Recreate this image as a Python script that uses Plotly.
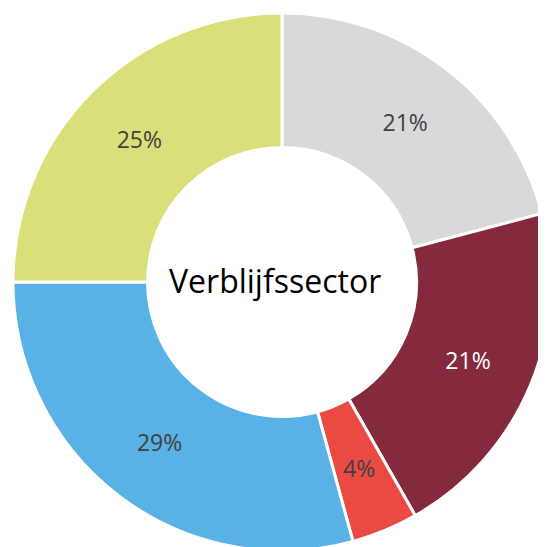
import math
import plotly.graph_objects as go

categories = ["Categorie 1", "Categorie 2", "Categorie 3", "Categorie 4", "Categorie 5"]
values = [20.9, 20.85, 4.0, 29.25, 25.0]
colors = ["#d9d9d9", "#85293c", "#eb4a42", "#58b2e6", "#d9e07a"]
text_colors = ["#404040", "#ffffff", "#404040", "#404040", "#404040"]
center_label = "Verblijfssector"

W, H = 546, 547
# pie domain in figure pixels
X0, X1, Y0, Y1 = 5, 543, 5, 543
HOLE = 0.5
SMALL = 2  # index of the thin slice whose label is placed at mid-ring

total = sum(values)
texttemplates = ["" if i == SMALL else "%{percent:.0%}" for i in range(len(values))]

fig = go.Figure(go.Pie(
    labels=categories,
    values=values,
    hole=HOLE,
    sort=False,
    direction="clockwise",
    rotation=0,
    marker=dict(colors=colors, line=dict(color="#ffffff", width=3)),
    texttemplate=texttemplates,
    textposition="inside",
    insidetextorientation="horizontal",
    insidetextfont=dict(family="Open Sans", size=23, color=text_colors),
    showlegend=False,
    domain=dict(x=[X0 / W, X1 / W], y=[(H - Y1) / H, (H - Y0) / H]),
))

# label of the thin slice, at the middle of the ring (computed from the data)
cx, cy = (X0 + X1) / 2, (Y0 + Y1) / 2
R = min(X1 - X0, Y1 - Y0) / 2
start = sum(values[:SMALL]) / total
mid = start + values[SMALL] / total / 2
theta = mid * 2 * math.pi
rm = R * (1 + HOLE) / 2
px = cx + rm * math.sin(theta)
py = cy - rm * math.cos(theta)
fig.add_annotation(
    text=f"{round(values[SMALL] / total * 100)}%", x=px / W, y=(H - py) / H,
    xref="paper", yref="paper", xanchor="center", yanchor="middle", showarrow=False,
    font=dict(family="Open Sans", size=23, color=text_colors[SMALL]),
)

fig.add_annotation(
    text=center_label, x=267 / W, y=(H - 272) / H, xref="paper", yref="paper",
    xanchor="center", yanchor="middle", showarrow=False,
    font=dict(family="Open Sans", size=32, color="#000000"),
)

fig.update_layout(
    width=W, height=H,
    margin=dict(l=0, r=0, t=0, b=0),
    paper_bgcolor="#ffffff",
    plot_bgcolor="#ffffff",
)

fig.write_html("out.html")
